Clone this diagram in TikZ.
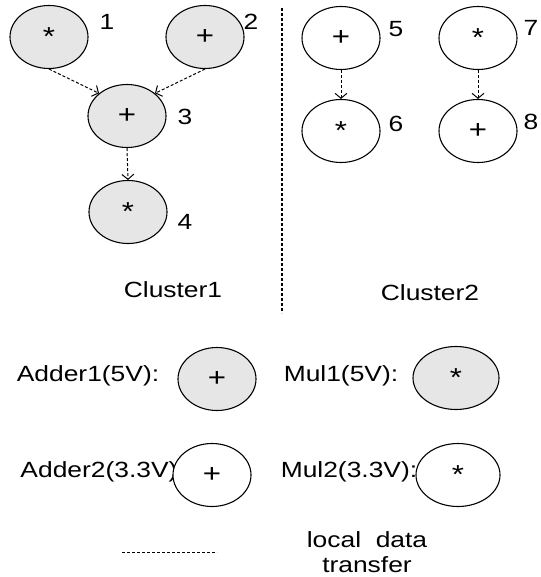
\documentclass[tikz,border=0pt]{standalone}
\usepackage{fontspec}
\setmainfont{Liberation Sans}[FakeStretch=1.2]
\usetikzlibrary{shapes.geometric,arrows.meta}
\definecolor{opfill}{HTML}{E6E6E6}
\tikzset{
  op/.style={ellipse,draw=black,line width=1.1pt,minimum width=78pt,minimum height=63pt,inner sep=0pt,font=\fontsize{26}{28}\selectfont},
  hi/.style={op,fill=opfill},
  lo/.style={op,fill=white},
  lbl/.style={inner sep=0pt,font=\fontsize{22}{26}\selectfont},
  flow/.style={draw=black,line width=1pt,dash pattern=on 3pt off 2pt,-{Straight Barb[length=5pt,width=12pt]}},
  sep/.style={draw=black,line width=1.1pt,dash pattern=on 3pt off 2pt}
}
\begin{document}
\begin{tikzpicture}[x=1pt,y=-1pt]
\useasboundingbox (0,0) rectangle (540,577);
% cluster 1
\node[hi] (n1) at (49,37) {*};
\node[hi] (n2) at (205,37) {+};
\node[hi] (n3) at (127,116) {+};
\node[hi] (n4) at (128,212) {*};
\node[lbl] (l1) at (107,22) {1};
\node[lbl] (l2) at (251,22) {2};
\node[lbl] (l3) at (185,117) {3};
\node[lbl] (l4) at (185,222) {4};
\draw[flow] (n1.south) -- (n3.north west);
\draw[flow] (n2.south) -- (n3.north east);
\draw[flow] (n3.south) -- (n4.north);
% cluster 2
\node[lo] (n5) at (341,38) {+};
\node[lo] (n6) at (341,131) {*};
\node[lo] (n7) at (478,38) {*};
\node[lo] (n8) at (478,131) {+};
\node[lbl] (l5) at (396,29) {5};
\node[lbl] (l6) at (396,124) {6};
\node[lbl] (l7) at (531,28) {7};
\node[lbl] (l8) at (531,122) {8};
\draw[flow] (n5.south) -- (n6.north);
\draw[flow] (n7.south) -- (n8.north);
% separator
\coordinate (s1) at (282,8);
\coordinate (s2) at (282,313);
\draw[sep] (s1) -- (s2);
\node[lbl] (c1) at (173,290) {Cluster1};
\node[lbl] (c2) at (430,293) {Cluster2};
% legend
\node[lbl] (t1) at (88,376) {Adder1(5V):};
\node[hi] (a1) at (217,379) {+};
\node[lbl] (t2) at (341,376) {Mul1(5V):};
\node[hi,minimum width=86pt] (m1) at (456,378) {*};
\node[lbl] (t3) at (99,472) {Adder2(3.3V)};
\node[lo] (a2) at (212,475) {+};
\node[lbl] (t4) at (349,472) {Mul2(3.3V):};
\node[lo,minimum width=84pt] (m2) at (458,475) {*};
\coordinate (d1) at (122,552);
\coordinate (d2) at (217,552);
\draw[draw=black,line width=1pt,dash pattern=on 3pt off 2pt] (d1) -- (d2);
\node[lbl,align=center,font=\fontsize{22}{25}\selectfont] (tx) at (367,552) {local\ \ data\\transfer};
\end{tikzpicture}
\end{document}
